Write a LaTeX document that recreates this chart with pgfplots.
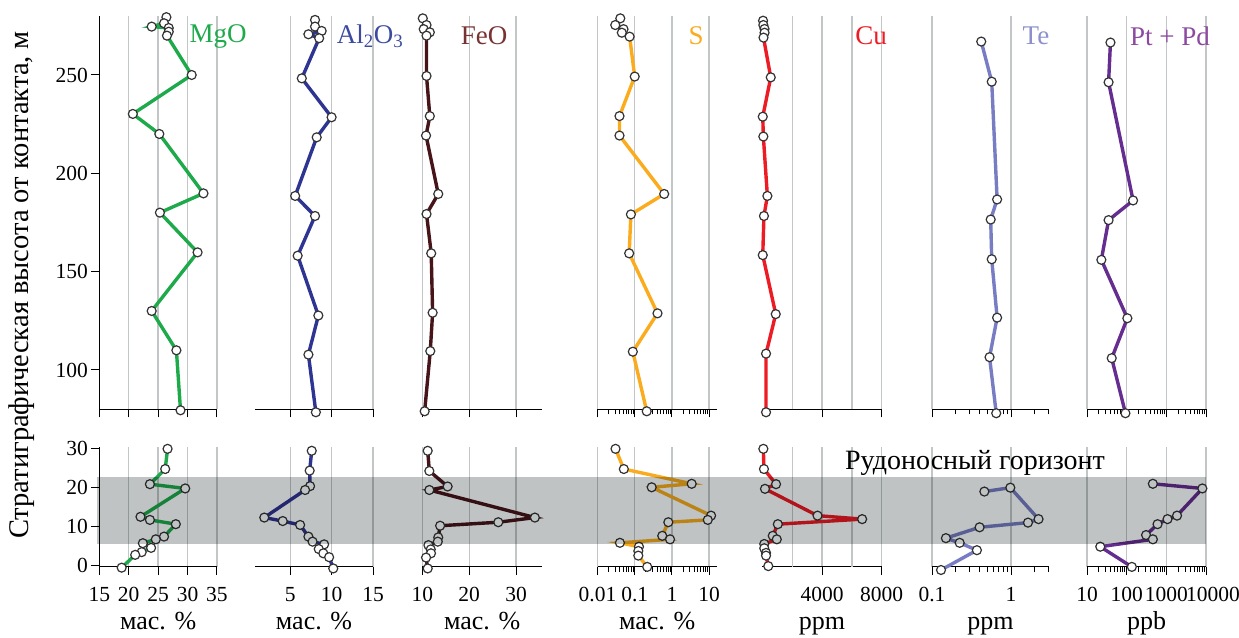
\documentclass[border=0pt]{standalone}
\usepackage{fontspec}
\setmainfont{Liberation Serif}
\usepackage{pgfplots}
\pgfplotsset{compat=1.18}
\definecolor{cmgo}{RGB}{30,170,75}
\definecolor{cal}{RGB}{46,52,146}
\definecolor{calt}{RGB}{60,75,160}
\definecolor{cfe}{RGB}{70,20,25}
\definecolor{cfet}{RGB}{120,50,50}
\definecolor{cs}{RGB}{250,172,30}
\definecolor{ccu}{RGB}{237,28,36}
\definecolor{cte}{RGB}{120,125,195}
\definecolor{ctet}{RGB}{140,145,205}
\definecolor{cpt}{RGB}{102,45,145}
\definecolor{cptt}{RGB}{140,75,160}
\definecolor{gridc}{RGB}{195,198,198}
\definecolor{bandc}{RGB}{191,195,195}
\newcommand{\tf}{\fontsize{21.5}{21.5}\selectfont}
\newcommand{\lf}{\fontsize{26}{26}\selectfont}
\newcommand{\hf}{\fontsize{27}{27}\selectfont}
\pgfplotsset{
  col/.style={scale only axis, clip=false,
    axis line style={-,line width=1.1pt,black}, tick align=outside,
    major tick length=8pt, minor tick length=5pt,
    tick style={black,line width=1pt},
    xmajorgrids, major grid style={draw=gridc,line width=1.3pt},
    ticklabel style={font=\tf},
    xticklabel style={yshift=-9pt}},
  noy/.style={axis x line=bottom, axis y line=none, ytick=\empty},
  withy/.style={axis x line=bottom, axis y line=left},
  up/.style={col, ymin=80, ymax=280, height=393.3pt, xticklabels={}},
  low/.style={col, ymin=-0.3, ymax=30.5, height=119.6pt,
    xlabel style={at={(axis description cs:0.5,0)}, anchor=base, yshift=-62.5pt, font=\lf}},
  ser/.style={line width=3.4pt, mark=*, mark size=4.5pt,
    mark options={fill=white, draw=black!80, line width=1.2pt, solid}},
  cMg/.style={xmin=15, xmax=35, width=117.7pt, xtick={15,20,25,30,35}},
  cAl/.style={xmin=0.75, xmax=15, width=118pt, xtick={5,10,15}},
  cFe/.style={xmin=10, xmax=35.5, width=119.6pt, xtick={10,20,30}},
  cS/.style={xmin=0.01, xmax=16, width=119.2pt, xtick={0.01,0.1,1,10},
    minor xtick={0.02,0.03,0.04,0.05,0.06,0.07,0.08,0.09,0.2,0.3,0.4,0.5,0.6,0.7,0.8,0.9,2,3,4,5,6,7,8,9}},
  cCu/.style={xmin=0, xmax=8000, width=119.4pt, xtick={4000,8000},
    extra x ticks={2000,6000}, extra x tick labels={},
    extra x tick style={grid=major, major tick length=0pt}},
  cTe/.style={xmin=0.1, xmax=3, width=116.7pt, xtick={0.1,1},
    minor xtick={0.2,0.3,0.4,0.5,0.6,0.7,0.8,0.9,2,3}},
  cPt/.style={xmin=10, xmax=10000, width=119pt, xtick={10,100,1000,10000},
    minor xtick={20,30,40,50,60,70,80,90,200,300,400,500,600,700,800,900,2000,3000,4000,5000,6000,7000,8000,9000}},
}
\begin{document}
\begin{tikzpicture}
\path[use as bounding box] (0pt,0pt) rectangle (1239pt,637pt);
% ---------------- upper panel ----------------
\begin{axis}[withy, up, cMg, at={(99.3pt,227.7pt)}, anchor=south west,
  ytick={100,150,200,250}, yticklabels={100,150,200,250}]
\addplot[ser, color=cmgo] coordinates {(26.4,279.4) (26.0,276.3) (23.9,274.6) (26.8,273.9) (26.8,272) (26.5,270) (30.7,250) (20.7,230.2) (25.2,220) (32.7,189.8) (25.3,180) (31.7,159.8) (23.9,130) (28.1,110) (28.8,79.5)};
\end{axis}
\begin{axis}[noy, up, cAl, at={(255pt,227.7pt)}, anchor=south west]
\addplot[ser, color=cal] coordinates {(8.0,278) (8.0,274.6) (8.8,272.4) (7.2,270.7) (8.5,268.7) (6.4,248.3) (10.0,228.5) (8.2,218.3) (5.6,188.5) (8.0,178.3) (5.9,158.1) (8.4,127.7) (7.2,107.8) (8.1,78.5)};
\end{axis}
\begin{axis}[noy, up, cFe, at={(422.3pt,227.7pt)}, anchor=south west]
\addplot[ser, color=cfe] coordinates {(10.1,278.8) (10.9,275.4) (10.3,273.3) (11.6,271.7) (10.9,270) (10.9,249.5) (11.6,229.1) (10.8,219.2) (13.4,189.5) (10.9,179.3) (11.9,159.3) (12.2,129.1) (11.7,109.6) (10.5,79)};
\end{axis}
\begin{axis}[xmode=log, noy, up, cS, at={(597.5pt,227.7pt)}, anchor=south west]
\addplot[ser, color=cs] coordinates {(0.041,278.8) (0.030,275.4) (0.050,273.3) (0.045,271.5) (0.073,269.5) (0.10,249.2) (0.039,229.1) (0.039,219.2) (0.62,189.5) (0.079,179.1) (0.071,159.3) (0.41,128.8) (0.089,109.3) (0.21,79)};
\end{axis}
\begin{axis}[noy, up, cCu, at={(762.3pt,227.7pt)}, anchor=south west]
\addplot[ser, color=ccu] coordinates {(50,277.6) (70,275.4) (150,273.4) (150,271.5) (80,269) (565,248.8) (30,228.8) (70,218.7) (340,188.5) (110,178.3) (30,158.4) (900,128.4) (250,108.3) (250,78.5)};
\end{axis}
\begin{axis}[xmode=log, noy, up, cTe, at={(932pt,227.7pt)}, anchor=south west]
\addplot[ser, color=cte] coordinates {(0.42,267) (0.57,246.6) (0.667,186.7) (0.553,176.5) (0.57,156.3) (0.667,126.6) (0.535,106.5) (0.65,78)};
\end{axis}
\begin{axis}[xmode=log, noy, up, cPt, at={(1087pt,227.7pt)}, anchor=south west]
\addplot[ser, color=cpt] coordinates {(39,266.5) (35,246.3) (145,186.2) (35,176.2) (23,156) (104,126.3) (42,106) (93,78)};
\end{axis}
% ---------------- lower panel ----------------
\begin{axis}[withy, low, cMg, at={(99.3pt,70.5pt)}, anchor=south west,
  ytick={0,10,20,30}, yticklabels={0,10,20,30},
  xticklabels={15,20,25,30,35}, xlabel={мас. \%}]
\addplot[ser, color=cmgo] coordinates {(26.6,30) (26.2,24.8) (23.6,20.9) (29.6,19.8) (22.0,12.5) (23.6,11.7) (28.0,10.6) (26.0,7.4) (24.6,6.7) (22.4,5.7) (23.8,4.5) (22.2,3.4) (21.1,2.7) (18.8,-0.6)};
\end{axis}
\begin{axis}[noy, low, cAl, at={(255pt,70.5pt)}, anchor=south west,
  xticklabels={5,10,15}, xlabel={мас. \%}]
\addplot[ser, color=cal] coordinates {(7.6,29.5) (7.35,24.4) (7.4,20.4) (6.8,19.4) (1.87,12.3) (4.1,11.4) (6.2,10.4) (7.2,7.4) (7.7,6.1) (9.1,5.4) (8.45,4.2) (9.0,3.1) (9.7,2.1) (10.2,-0.8)};
\end{axis}
\begin{axis}[noy, low, cFe, at={(422.3pt,70.5pt)}, anchor=south west,
  xticklabels={10,20,30}, xlabel={мас. \%}]
\addplot[ser, color=cfe] coordinates {(11.15,29.5) (11.5,24.3) (15.4,20.3) (11.5,19.4) (34.0,12.3) (26.2,11.1) (13.8,10.2) (13.4,7.2) (13.3,6.1) (11.3,5.2) (11.8,4.1) (11.85,3.1) (10.8,2.0) (11.15,-0.8)};
\end{axis}
\begin{axis}[xmode=log, noy, low, cS, at={(597.5pt,70.5pt)}, anchor=south west,
  xticklabels={0.01,0.1,1,10}, xlabel={мас. \%}]
\addplot[ser, color=cs] coordinates {(0.0305,30) (0.051,24.8) (3.4,21.0) (0.286,20.1) (11.3,12.8) (9.2,11.7) (0.80,11.1) (0.55,7.6) (0.89,6.7) (0.040,5.8) (0.13,4.8) (0.125,3.7) (0.125,2.5) (0.217,-0.4)};
\end{axis}
\begin{axis}[noy, low, cCu, at={(762.3pt,70.5pt)}, anchor=south west,
  xticklabels={4000,8000}, xlabel={ppm}]
\addplot[ser, color=ccu] coordinates {(70,30) (110,24.8) (920,20.9) (180,19.7) (3700,12.8) (6690,11.9) (1040,10.6) (700,7.6) (970,6.7) (130,5.5) (130,4.4) (250,3.2) (250,2.5) (400,-0.2)};
\end{axis}
\begin{axis}[xmode=log, noy, low, cTe, at={(932pt,70.5pt)}, anchor=south west,
  xticklabels={0.1,1}, xlabel={ppm}]
\addplot[ser, color=cte] coordinates {(0.46,19.0) (0.98,20.0) (2.23,11.9) (1.64,11.0) (0.40,9.8) (0.15,7.0) (0.224,5.8) (0.37,3.9) (0.13,-1.2)};
\end{axis}
\begin{axis}[xmode=log, noy, low, cPt, at={(1087pt,70.5pt)}, anchor=south west,
  xticklabels={10,100,1000,\hspace*{14pt}10000}, xlabel={ppb}]
\addplot[ser, color=cpt] coordinates {(457,21.0) (8100,19.8) (1860,12.8) (1070,11.9) (600,10.6) (308,7.8) (457,6.7) (21.6,4.8) (135,-0.4)};
\end{axis}
% ---------------- ore horizon band ----------------
\begin{axis}[scale only axis, hide axis, clip=false, at={(97pt,70.5pt)}, anchor=south west,
  width=1109pt, height=119.6pt, xmin=0, xmax=1, ymin=-0.3, ymax=30.5]
\addplot[fill=bandc, draw=none, blend mode=multiply] coordinates {(0,5.5) (1,5.5) (1,22.7) (0,22.7)} -- cycle;
\end{axis}
% ---------------- labels ----------------
\node[font=\fontsize{28}{28}\selectfont] at (975pt,174pt) {Рудоносный горизонт};
\node[font=\fontsize{28.5}{28.5}\selectfont, rotate=90] at (22pt,352pt) {Стратиграфическая высота от контакта, м};
\node[font=\hf, text=cmgo] at (218pt,601pt) {MgO};
\node[font=\hf, text=calt] at (370pt,601pt) {Al\textsubscript{2}O\textsubscript{3}};
\node[font=\hf, text=cfet] at (484pt,601pt) {FeO};
\node[font=\hf, text=cs] at (696pt,601pt) {S};
\node[font=\hf, text=ccu] at (871pt,601pt) {Cu};
\node[font=\hf, text=ctet] at (1036pt,601pt) {Te};
\node[font=\hf, text=cptt] at (1170pt,601pt) {Pt + Pd};
\end{tikzpicture}
\end{document}
